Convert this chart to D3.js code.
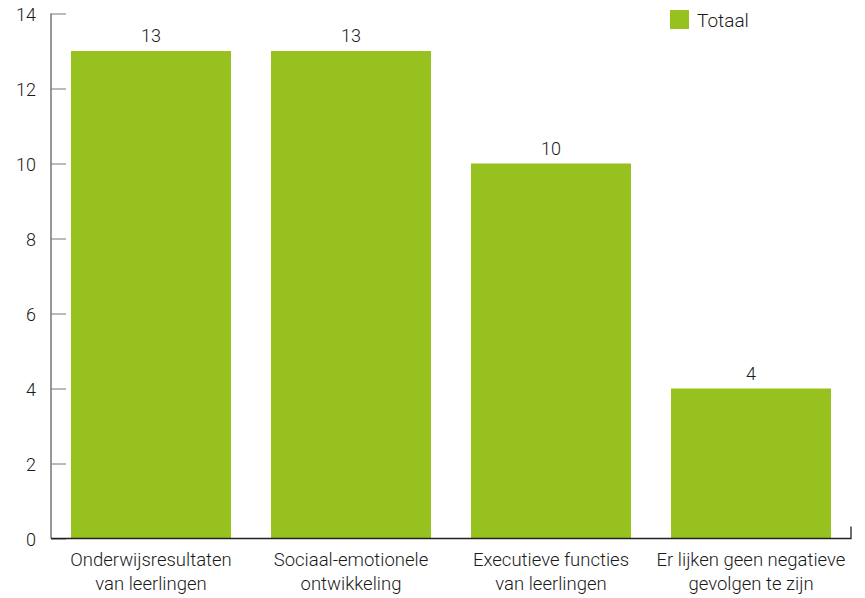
<!DOCTYPE html>
<html>
<head>
<meta charset="utf-8">
<script src="https://cdn.jsdelivr.net/npm/d3@7"></script>
<style>
  body { margin: 0; background: #fff; }
  text { font-family: Roboto, "DejaVu Sans Condensed", sans-serif; font-weight: 300; fill: #1a1a1a; }
</style>
</head>
<body>
<svg></svg>
<script>
var width = 865
var height = 598

// data
var categories = [
  ["Onderwijsresultaten", "van leerlingen"],
  ["Sociaal-emotionele", "ontwikkeling"],
  ["Executieve functies", "van leerlingen"],
  ["Er lijken geen negatieve", "gevolgen te zijn"]
]
var values = [13, 13, 10, 4]
var yTicks = [0, 2, 4, 6, 8, 10, 12, 14]
var seriesName = "Totaal"

var green = "#97c11f"
var margin = {top: 13.5, right: 14, bottom: 59.5, left: 51}

var svg = d3.select("svg")
  .attr("width", width)
  .attr("height", height)

x = d3.scaleBand()
  .domain(d3.range(values.length))
  .range([margin.left, width - margin.right])
  .paddingInner(0.2)
  .paddingOuter(0.1)

y = d3.scaleLinear()
  .domain([0, 14])
  .range([height - margin.bottom, margin.top])

// bars
svg.append("g")
  .selectAll("rect")
  .data(values)
  .enter()
  .append("rect")
    .attr("x", (d, i) => x(i))
    .attr("y", d => y(d))
    .attr("width", x.bandwidth())
    .attr("height", d => y(0) - y(d))
    .attr("fill", green)

// value labels
svg.append("g")
  .selectAll("text")
  .data(values)
  .enter()
  .append("text")
    .attr("x", (d, i) => x(i) + x.bandwidth() / 2)
    .attr("y", d => y(d) - 9)
    .attr("text-anchor", "middle")
    .attr("font-size", 18)
    .text(d => d)

// y axis
const gy = svg.append("g")
  .attr("transform", `translate(${margin.left},0)`)
  .call(d3.axisRight(y).tickValues(yTicks).tickSize(15).tickFormat(""))
gy.select(".domain").attr("stroke", "#333").attr("d", `M0,${y(14)}V${y(0)}`)
gy.selectAll(".tick line").attr("stroke", "#777")

svg.append("g")
  .selectAll("text")
  .data(yTicks)
  .enter()
  .append("text")
    .attr("x", 36)
    .attr("y", d => y(d) + 7)
    .attr("text-anchor", "end")
    .attr("font-size", 18)
    .text(d => d)

// x axis
var x0 = x.range()[0], x1 = x.range()[1]
svg.append("path")
  .attr("d", `M${x0},${y(0)}H${x1}V${y(0) - 12}`)
  .attr("fill", "none")
  .attr("stroke", "#222")
  .attr("stroke-width", 1.3)

var labels = svg.append("g")
  .selectAll("text")
  .data(categories)
  .enter()
  .append("text")
    .attr("x", (d, i) => x(i) + x.bandwidth() / 2)
    .attr("y", y(0) + 27)
    .attr("text-anchor", "middle")
    .attr("font-size", 18.5)

labels.selectAll("tspan")
  .data(d => d)
  .enter()
  .append("tspan")
    .attr("x", function() { return this.parentNode.getAttribute("x") })
    .attr("dy", (d, i) => i ? 24 : 0)
    .text(d => d)

// legend
const gLeg = svg.append("g").attr("transform", "translate(670,10)")
gLeg.append("rect").attr("width", 19).attr("height", 19).attr("fill", green)
gLeg.append("text").attr("x", 27).attr("y", 17).attr("font-size", 19).text(seriesName)
</script>
</body>
</html>
